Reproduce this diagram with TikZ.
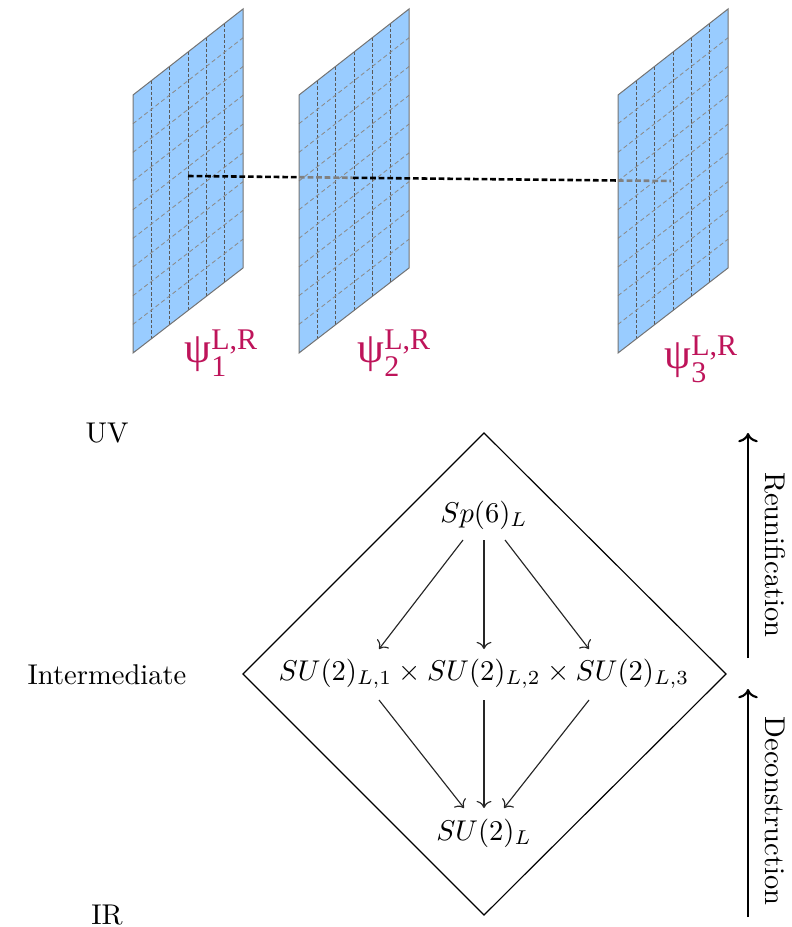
\documentclass[tikz,border=0pt]{standalone}
\usepackage{fontspec}
\newfontfamily\timesf{Liberation Serif}
\usetikzlibrary{arrows.meta}
\definecolor{branefill}{RGB}{153,204,255}
\definecolor{braneedge}{RGB}{115,115,115}
\definecolor{labelcol}{RGB}{190,20,90}
\newcommand\psilab[1]{{\timesf\fontsize{15}{15}\selectfont ψ}{\timesf\fontsize{10.5}{10.5}\selectfont\rlap{\raisebox{4.6pt}{L,R}}\raisebox{-4.8pt}{#1}}}
\tikzset{
  vgrid/.style={draw=black!65, line width=0.3pt, dash pattern=on 1.2pt off 0.7pt},
  hgrid/.style={draw=black!45, line width=0.3pt, dash pattern=on 1.5pt off 1pt},
  braneborder/.style={draw=braneedge, line width=0.35pt},
  linkfront/.style={draw=black, line width=0.9pt, dash pattern=on 2pt off 1pt},
  linkback/.style={draw=black!50, line width=0.9pt, dash pattern=on 2pt off 1pt},
  psilabel/.style={text=labelcol, anchor=base west, inner sep=0pt},
  grp/.style={inner sep=0pt},
  side/.style={inner sep=0pt},
  flow/.style={->, line width=0.4pt, draw=black!85},
  bigarrow/.style={->, line width=0.75pt}
}
\newcommand\drawbrane[1]{%
  \fill[branefill] (#1,95) -- ({#1+110},9) -- ({#1+110},268) -- (#1,353) -- cycle;
  \foreach \k in {1,...,5} \draw[vgrid] ({#1+\k*110/6},{95-\k*86/6}) -- ({#1+\k*110/6},{353-\k*85/6});
  \foreach \j in {1,...,8} \draw[hgrid] (#1,{95+\j*258/9}) -- ({#1+110},{9+\j*259/9});
  \draw[braneborder] (#1,95) -- ({#1+110},9) -- ({#1+110},268) -- (#1,353) -- cycle;
}
\begin{document}
\begin{tikzpicture}[x=0.35pt,y=-0.35pt]
\useasboundingbox (0,0) rectangle (791,927);
% branes
\drawbrane{133}
\drawbrane{299}
\drawbrane{618}
% connecting line
\coordinate (p1) at (188,176);
\coordinate (p2) at (299,177.2);
\coordinate (p3) at (353,177.8);
\coordinate (p4) at (618,180.5);
\coordinate (p5) at (671,181);
\draw[linkfront] (p1) -- (p2);
\draw[linkback] (p2) -- (p3);
\draw[linkfront] (p3) -- (p4);
\draw[linkback] (p4) -- (p5);
% labels
\node[psilabel] (l1) at (184,363) {\psilab{1}};
\node[psilabel] (l2) at (357,363) {\psilab{2}};
\node[psilabel] (l3) at (664,369) {\psilab{3}};
% diamond
\coordinate (dt) at (484,433);
\coordinate (dr) at (726,674);
\coordinate (db) at (484,915);
\coordinate (dl) at (243,674);
\draw[line width=0.4pt] (dt) -- (dr) -- (db) -- (dl) -- cycle;
% groups
\node[grp] (sp) at (484,515) {$Sp(6)_L$};
\node[grp] (mid) at (484,674) {$SU(2)_{L,1}\times SU(2)_{L,2}\times SU(2)_{L,3}$};
\node[grp] (su) at (484,833) {$SU(2)_L$};
\coordinate (a1s) at (463,540); \coordinate (a1e) at (379,649);
\coordinate (a2s) at (484,540); \coordinate (a2e) at (484,649);
\coordinate (a3s) at (505,540); \coordinate (a3e) at (589,649);
\coordinate (b1s) at (379,700); \coordinate (b1e) at (464,808);
\coordinate (b2s) at (484,700); \coordinate (b2e) at (484,808);
\coordinate (b3s) at (589,700); \coordinate (b3e) at (504,808);
\draw[flow] (a1s) -- (a1e);
\draw[flow] (a2s) -- (a2e);
\draw[flow] (a3s) -- (a3e);
\draw[flow] (b1s) -- (b1e);
\draw[flow] (b2s) -- (b2e);
\draw[flow] (b3s) -- (b3e);
% side labels
\node[side] (uv) at (107,433) {UV};
\node[side] (im) at (107,675) {Intermediate};
\node[side] (ir) at (107,915) {IR};
% right arrows
\coordinate (r1s) at (748,658); \coordinate (r1e) at (748,433);
\coordinate (r2s) at (748,917); \coordinate (r2e) at (748,689);
\draw[bigarrow] (r1s) -- (r1e);
\draw[bigarrow] (r2s) -- (r2e);
\node[side, rotate=-90] (reu) at (775,555) {Reunification};
\node[side, rotate=-90] (dec) at (775,811) {Deconstruction};
\end{tikzpicture}
\end{document}
